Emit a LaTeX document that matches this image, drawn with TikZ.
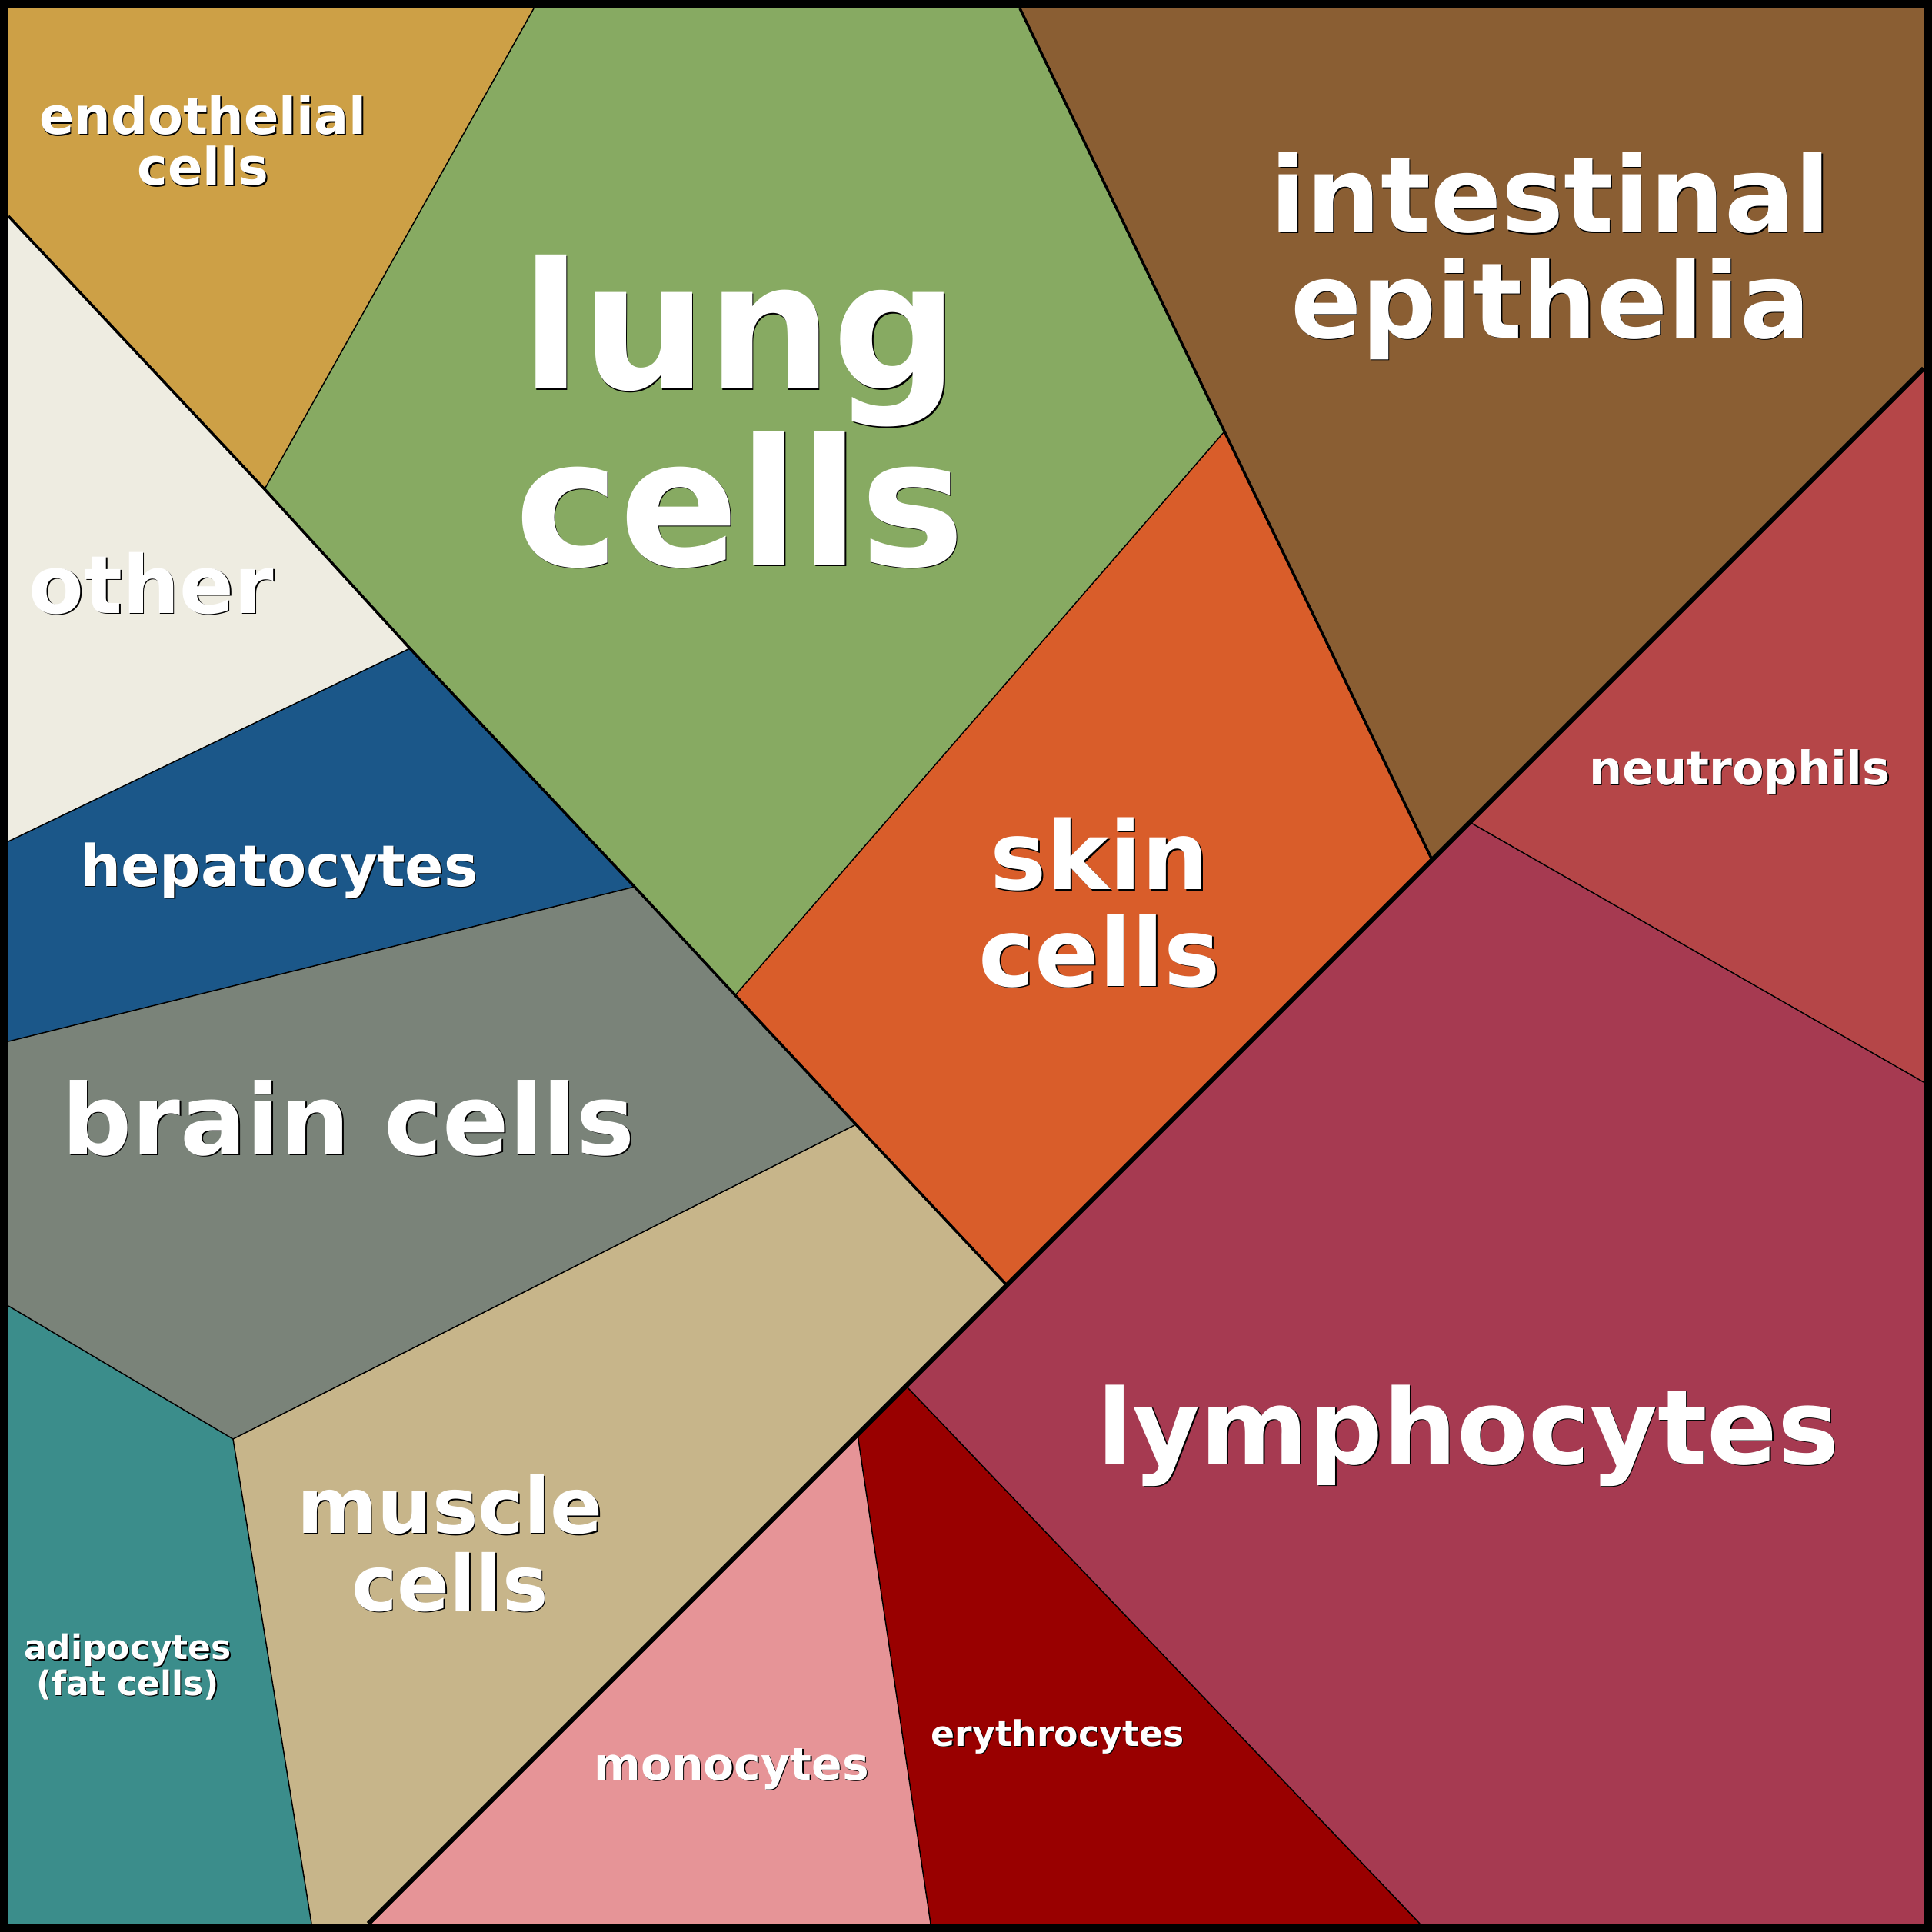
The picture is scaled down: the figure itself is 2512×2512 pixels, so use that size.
\documentclass[tikz,border=0pt]{standalone}
\usepackage{fontspec}
\setmainfont{DejaVu Sans}
\usepackage{tikz}
\usetikzlibrary{calc}
\definecolor{endocol}{RGB}{205,160,70}
\definecolor{lungcol}{RGB}{135,170,98}
\definecolor{intestcol}{RGB}{138,94,51}
\definecolor{neutrocol}{RGB}{181,70,72}
\definecolor{lymphocol}{RGB}{166,58,81}
\definecolor{skincol}{RGB}{217,93,42}
\definecolor{othercol}{RGB}{238,236,225}
\definecolor{hepacol}{RGB}{27,87,137}
\definecolor{braincol}{RGB}{122,131,121}
\definecolor{musclecol}{RGB}{199,181,138}
\definecolor{adipocol}{RGB}{59,141,139}
\definecolor{monocol}{RGB}{230,148,151}
\definecolor{erythrocol}{RGB}{153,0,0}
\tikzset{
  cut/.style={line width=0.015cm},
  midcut/.style={line width=0.035cm},
  bigcut/.style={line width=0.06cm},
  celltext/.style={text=white,anchor=base,align=center,inner sep=0pt}
}
\newcommand{\celllabel}[5]{% 名称, 位置(末行基线), 字号, 行距, 文字
  \node[celltext,text=black,font=\fontsize{#3}{#4}\selectfont\bfseries] (#1-s) at ($(#2)+(1.5,1.5)$) {#5};%阴影
  \node[celltext,font=\fontsize{#3}{#4}\selectfont\bfseries] (#1) at (#2) {#5};}

\begin{document}
\begin{tikzpicture}[x=0.01cm,y=-0.01cm]
            \useasboundingbox (0,0) rectangle (2512,2512);
            %边框上的点
            \coordinate (T1) at (694,11);
            \coordinate (T2) at (1326,11);
            \coordinate (L1) at (11,281);
            \coordinate (L2) at (11,1094);
            \coordinate (L3) at (11,1354);
            \coordinate (L4) at (11,1698);
            \coordinate (R1) at (2501,479);
            \coordinate (R2) at (2501,1407);
            \coordinate (B1) at (405,2501);
            \coordinate (B2) at (479,2501);
            \coordinate (B3) at (1210,2501);
            \coordinate (B4) at (1846,2501);
            %内部顶点
            \coordinate (A) at (344,636);
            \coordinate (B) at (533,843);
            \coordinate (C) at (825,1153);
            \coordinate (D) at (956,1294);
            \coordinate (E) at (1113,1462);
            \coordinate (F) at (1309,1671);
            \coordinate (G) at (1592,561);
            \coordinate (H) at (1862,1118);
            \coordinate (I) at (1911,1069);
            \coordinate (J) at (303,1871);
            \coordinate (K) at (1115,1865);
            \coordinate (M) at (1178,1802);
            %填充各区域
            \fill [endocol] (11,11) -- (T1) -- (A) -- (L1) -- cycle;
            \fill [lungcol] (T1) -- (T2) -- (G) -- (D) -- (C) -- (B) -- (A) -- cycle;
            \fill [intestcol] (T2) -- (2501,11) -- (R1) -- (I) -- (H) -- (G) -- cycle;
            \fill [skincol] (G) -- (H) -- (F) -- (E) -- (D) -- cycle;
            \fill [othercol] (L1) -- (A) -- (B) -- (L2) -- cycle;
            \fill [hepacol] (L2) -- (B) -- (C) -- (L3) -- cycle;
            \fill [braincol] (L3) -- (C) -- (D) -- (E) -- (J) -- (L4) -- cycle;
            \fill [musclecol] (J) -- (E) -- (F) -- (K) -- (B2) -- (B1) -- cycle;
            \fill [adipocol] (L4) -- (J) -- (B1) -- (11,2501) -- cycle;
            \fill [neutrocol] (I) -- (R1) -- (R2) -- cycle;
            \fill [lymphocol] (M) -- (I) -- (R2) -- (2501,2501) -- (B4) -- cycle;
            \fill [erythrocol] (K) -- (M) -- (B4) -- (B3) -- cycle;
            \fill [monocol] (B2) -- (K) -- (B3) -- cycle;
            %分界线
            \draw [cut] (T1) -- (A);
            \draw [cut] (B) -- (L2);
            \draw [cut] (C) -- (L3);
            \draw [cut] (G) -- (D);
            \draw [cut] (E) -- (J) -- (L4);
            \draw [cut] (J) -- (B1);
            \draw [cut] (K) -- (B3);
            \draw [cut] (M) -- (B4);
            \draw [cut] (I) -- (R2);
            \draw [midcut] (L1) -- (A) -- (B) -- (C) -- (D) -- (E) -- (F);
            \draw [midcut] (T2) -- (G) -- (H);
            \draw [bigcut] (R1) -- (B2);
            \draw [line width=0.11cm] (5.5,5.5) rectangle (2506.5,2506.5); %外框
            %文字
            \celllabel{endo}{264,241}{19pt}{18.8pt}{endothelial\\cells}
            \celllabel{lung}{962,735}{65.2pt}{65.2pt}{lung\\cells}
            \celllabel{intest}{2016,439}{38.7pt}{39pt}{intestinal\\epithelia}
            \celllabel{other}{197,797}{29.7pt}{30pt}{other}
            \celllabel{hepa}{363,1152}{21.2pt}{22pt}{hepatocytes}
            \celllabel{brain}{453,1501}{36.3pt}{37pt}{brain cells}
            \celllabel{skin}{1430,1282}{35pt}{35.6pt}{skin\\cells}
            \celllabel{neutro}{2262,1020}{17.2pt}{18pt}{neutrophils}
            \celllabel{lympho}{1909,1903}{38.4pt}{39pt}{lymphocytes}
            \celllabel{muscle}{585,2094}{28.5pt}{28.5pt}{muscle\\cells}
            \celllabel{adipo}{166,2204}{12.5pt}{11.7pt}{adipocytes\\(fat cells)}
            \celllabel{mono}{951,2314}{16.6pt}{17pt}{monocytes}
            \celllabel{erythro}{1375,2270}{13pt}{13.5pt}{erythrocytes}
\end{tikzpicture}
\end{document}
